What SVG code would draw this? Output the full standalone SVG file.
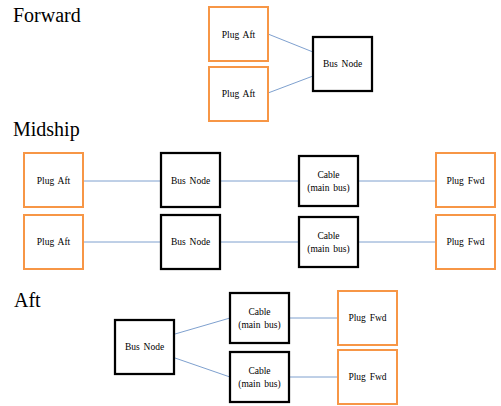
<svg xmlns="http://www.w3.org/2000/svg" width="501" height="406" viewBox="0 0 501 406">
  <defs>
    <rect id="plugBox" width="59" height="54" fill="#fff" stroke="#F79646" stroke-width="2"/>
    <rect id="busBox" width="59" height="54" fill="#fff" stroke="#000" stroke-width="2.25"/>
    <rect id="cableBox" width="59" height="50" fill="#fff" stroke="#000" stroke-width="2.25"/>
  </defs>
  <rect width="501" height="406" fill="#fff"/>

  <!-- section headings -->
  <text font-family="Liberation Serif" font-size="20" fill="#000" x="13" y="22">Forward</text>
  <text font-family="Liberation Serif" font-size="20" fill="#000" x="13" y="136">Midship</text>
  <text font-family="Liberation Serif" font-size="20" fill="#000" x="14" y="307">Aft</text>

  <!-- connectors -->
  <g id="connectors" stroke="#6F95C8" stroke-width="0.9" fill="none">
    <line x1="268" y1="34" x2="313" y2="52"/>
    <line x1="268" y1="93" x2="313" y2="76"/>
    <line x1="83" y1="181" x2="161" y2="181"/>
    <line x1="220" y1="181" x2="299" y2="181"/>
    <line x1="358" y1="181" x2="436" y2="181"/>
    <line x1="83" y1="242" x2="161" y2="242"/>
    <line x1="220" y1="242" x2="299" y2="242"/>
    <line x1="358" y1="242" x2="436" y2="242"/>
    <line x1="175" y1="334" x2="230" y2="318"/>
    <line x1="175" y1="358" x2="230" y2="377"/>
    <line x1="290" y1="318" x2="338" y2="318"/>
    <line x1="289" y1="377" x2="338" y2="377"/>
  </g>

  <!-- Forward -->
  <g id="fwd-plug-aft-1">
    <use href="#plugBox" x="209" y="7"/>
    <text font-family="Liberation Serif" font-size="9.5" word-spacing="1.5" text-anchor="middle" x="238.5" y="37.5">Plug Aft</text>
  </g>
  <g id="fwd-plug-aft-2">
    <use href="#plugBox" x="209" y="67"/>
    <text font-family="Liberation Serif" font-size="9.5" word-spacing="1.5" text-anchor="middle" x="238.5" y="96.5">Plug Aft</text>
  </g>
  <g id="fwd-bus-node">
    <use href="#busBox" x="313" y="37"/>
    <text font-family="Liberation Serif" font-size="9.5" word-spacing="1.5" text-anchor="middle" x="342.5" y="67">Bus Node</text>
  </g>

  <!-- Midship, row 1 -->
  <g id="mid-plug-aft-1">
    <use href="#plugBox" x="24" y="153"/>
    <text font-family="Liberation Serif" font-size="9.5" word-spacing="1.5" text-anchor="middle" x="53.5" y="184">Plug Aft</text>
  </g>
  <g id="mid-bus-node-1">
    <use href="#busBox" x="161" y="153"/>
    <text font-family="Liberation Serif" font-size="9.5" word-spacing="1.5" text-anchor="middle" x="190.5" y="184">Bus Node</text>
  </g>
  <g id="mid-cable-1">
    <use href="#cableBox" x="299" y="156"/>
    <text font-family="Liberation Serif" font-size="9.5" word-spacing="1.5" text-anchor="middle" x="328.5" y="178">Cable</text>
    <text font-family="Liberation Serif" font-size="9.5" word-spacing="1.5" text-anchor="middle" x="328.5" y="191">(main bus)</text>
  </g>
  <g id="mid-plug-fwd-1">
    <use href="#plugBox" x="436" y="153"/>
    <text font-family="Liberation Serif" font-size="9.5" word-spacing="1.5" text-anchor="middle" x="465.5" y="184">Plug Fwd</text>
  </g>

  <!-- Midship, row 2 -->
  <g id="mid-plug-aft-2">
    <use href="#plugBox" x="24" y="215"/>
    <text font-family="Liberation Serif" font-size="9.5" word-spacing="1.5" text-anchor="middle" x="53.5" y="245">Plug Aft</text>
  </g>
  <g id="mid-bus-node-2">
    <use href="#busBox" x="161" y="215"/>
    <text font-family="Liberation Serif" font-size="9.5" word-spacing="1.5" text-anchor="middle" x="190.5" y="245">Bus Node</text>
  </g>
  <g id="mid-cable-2">
    <use href="#cableBox" x="299" y="217"/>
    <text font-family="Liberation Serif" font-size="9.5" word-spacing="1.5" text-anchor="middle" x="328.5" y="239">Cable</text>
    <text font-family="Liberation Serif" font-size="9.5" word-spacing="1.5" text-anchor="middle" x="328.5" y="252">(main bus)</text>
  </g>
  <g id="mid-plug-fwd-2">
    <use href="#plugBox" x="436" y="215"/>
    <text font-family="Liberation Serif" font-size="9.5" word-spacing="1.5" text-anchor="middle" x="465.5" y="245">Plug Fwd</text>
  </g>

  <!-- Aft -->
  <g id="aft-bus-node">
    <use href="#busBox" x="115" y="320"/>
    <text font-family="Liberation Serif" font-size="9.5" word-spacing="1.5" text-anchor="middle" x="144.5" y="350">Bus Node</text>
  </g>
  <g id="aft-cable-1">
    <use href="#cableBox" x="230" y="293"/>
    <text font-family="Liberation Serif" font-size="9.5" word-spacing="1.5" text-anchor="middle" x="259.5" y="315">Cable</text>
    <text font-family="Liberation Serif" font-size="9.5" word-spacing="1.5" text-anchor="middle" x="259.5" y="328">(main bus)</text>
  </g>
  <g id="aft-cable-2">
    <use href="#cableBox" x="230" y="352"/>
    <text font-family="Liberation Serif" font-size="9.5" word-spacing="1.5" text-anchor="middle" x="259.5" y="374">Cable</text>
    <text font-family="Liberation Serif" font-size="9.5" word-spacing="1.5" text-anchor="middle" x="259.5" y="387">(main bus)</text>
  </g>
  <g id="aft-plug-fwd-1">
    <use href="#plugBox" x="338" y="291"/>
    <text font-family="Liberation Serif" font-size="9.5" word-spacing="1.5" text-anchor="middle" x="367.5" y="321">Plug Fwd</text>
  </g>
  <g id="aft-plug-fwd-2">
    <use href="#plugBox" x="338" y="350"/>
    <text font-family="Liberation Serif" font-size="9.5" word-spacing="1.5" text-anchor="middle" x="367.5" y="380">Plug Fwd</text>
  </g>
</svg>
